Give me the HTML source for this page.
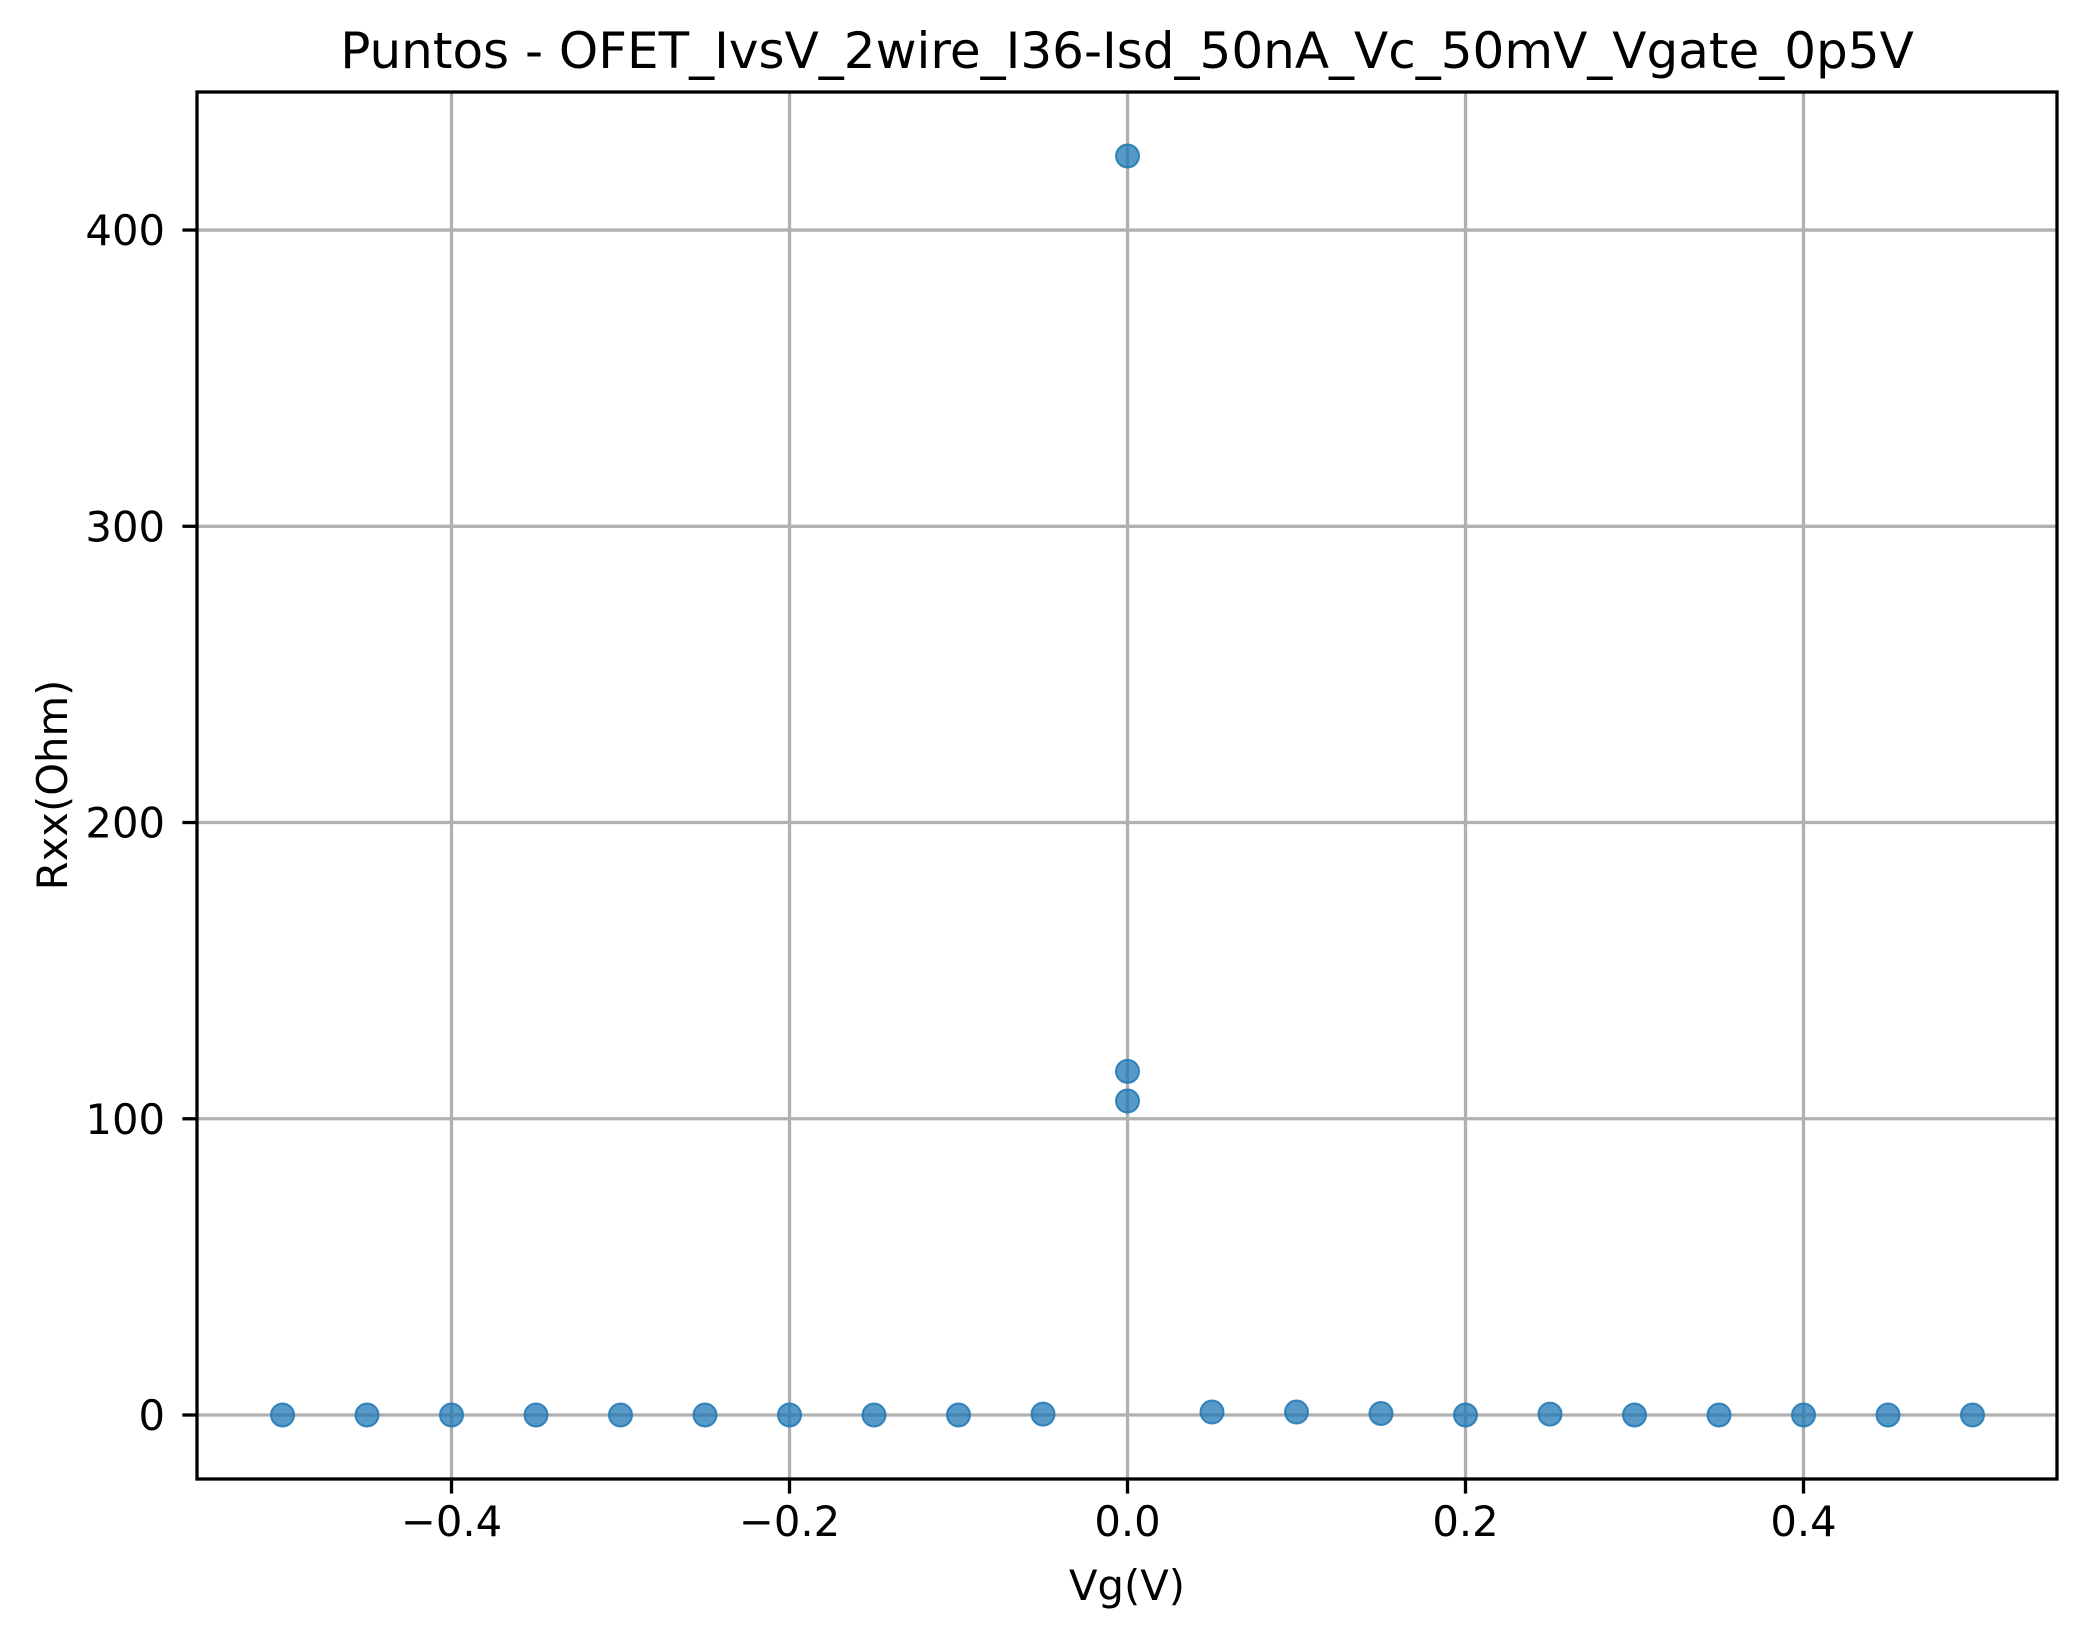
<!DOCTYPE html>
<html><head><meta charset="utf-8"><style>html,body{margin:0;padding:0;background:#fff}svg{display:block}text{font-family:"DejaVu Sans","Liberation Sans",sans-serif;fill:#000}</style></head>
<body>
<svg id="chart" width="2087" height="1638" viewBox="0 0 2087 1638" xmlns="http://www.w3.org/2000/svg">
<rect width="2087" height="1638" fill="#fff"/>
<g id="grid"></g>
<g id="ticks"></g>
<g id="points"></g>
<rect x="197" y="92" width="1860" height="1387" fill="none" stroke="#000" stroke-width="3.3"/>
<text x="1127" y="68" font-size="50" text-anchor="middle">Puntos - OFET_IvsV_2wire_I36-Isd_50nA_Vc_50mV_Vgate_0p5V</text>
<text x="1127" y="1600" font-size="41.7" text-anchor="middle">Vg(V)</text>
<text x="0" y="0" font-size="41.7" text-anchor="middle" transform="translate(67,785) rotate(-90)">Rxx(Ohm)</text>
</svg>
<script>
const xTicks = [-0.4, -0.2, 0.0, 0.2, 0.4];
const xTickLabels = ["\u22120.4", "\u22120.2", "0.0", "0.2", "0.4"];
const yTicks = [0, 100, 200, 300, 400];
const yTickLabels = ["0", "100", "200", "300", "400"];
const vgValues = [-0.5,-0.45,-0.4,-0.35,-0.3,-0.25,-0.2,-0.15,-0.1,-0.05,0,0,0,0.05,0.1,0.15,0.2,0.25,0.3,0.35,0.4,0.45,0.5];
const rxxValues = [0,0,0,0,0,0,0,0,0,0.3,425,116,106,1,1,0.5,0,0.3,0,0,0,0,0];

const L=197,R=2057,T=92,B=1479;
const xMin=-0.5506,xMax=0.55,yMin=-21.6,yMax=446.6;
function sx(v){return L+(v-xMin)/(xMax-xMin)*(R-L);}
function sy(v){return B-(v-yMin)/(yMax-yMin)*(B-T);}
const NS="http://www.w3.org/2000/svg";
const grid=document.getElementById('grid'),ticks=document.getElementById('ticks'),pts=document.getElementById('points');
function mk(tag,attrs,parent){const e=document.createElementNS(NS,tag);for(const k in attrs)e.setAttribute(k,attrs[k]);parent.appendChild(e);return e;}
xTicks.forEach((v,i)=>{
  const x=sx(v);
  const g=mk('line',{x1:x,x2:x,y1:T,y2:B,stroke:'#b0b0b0','stroke-width':3.3},grid);
  
  
  const t=mk('line',{x1:x,x2:x,y1:B,y2:B+14.6,stroke:'#000','stroke-width':3.3},ticks);
  
  
  const l=mk('text',{x:x,y:B+57,'font-size':41.7,'text-anchor':'middle'},ticks);
  l.textContent=xTickLabels[i];
  
  
});
yTicks.forEach((v,i)=>{
  const y=sy(v);
  const g=mk('line',{x1:L,x2:R,y1:y,y2:y,stroke:'#b0b0b0','stroke-width':3.3},grid);
  
  
  const t=mk('line',{x1:L-14.6,x2:L,y1:y,y2:y,stroke:'#000','stroke-width':3.3},ticks);
  
  
  const l=mk('text',{x:L-32,y:y+15,'font-size':41.7,'text-anchor':'end'},ticks);
  l.textContent=yTickLabels[i];
  
  
});
vgValues.forEach((v,i)=>{
  const c=mk('circle',{cx:sx(v),cy:sy(rxxValues[i]),r:11.5,fill:'#1f77b4','fill-opacity':0.75,stroke:'#1f77b4','stroke-opacity':0.85,'stroke-width':2},pts);
  
  
});
</script>
</body></html>
